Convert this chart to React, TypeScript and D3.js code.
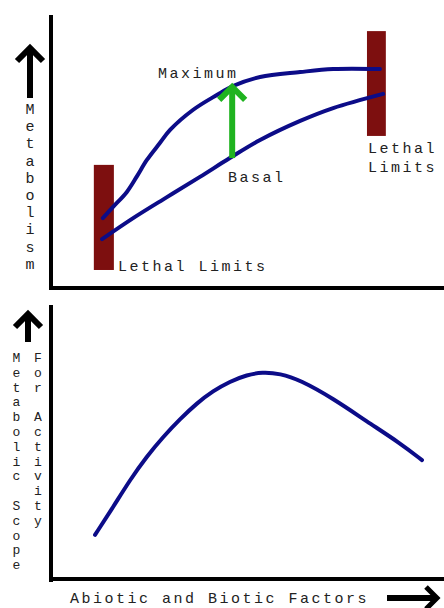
import React from "react";
import * as d3 from "d3";

// ---- data (domain units: factor level 0-100, metabolism 0-100) ----
const maxX = [13.2, 15.8, 19.3, 21.9, 24.4, 27.7, 30.3, 36.1, 42.2, 46.3, 53.2, 63.4, 71.8, 83.7];
const maxY = [25.6, 29.7, 35.2, 41.0, 46.9, 53.1, 57.9, 65.2, 70.7, 74.0, 77.3, 79.1, 80.2, 80.2];

const basalX = [13.0, 20.9, 29.5, 37.9, 45.5, 53.2, 63.4, 71.8, 84.5];
const basalY = [17.9, 25.6, 33.3, 40.7, 47.6, 54.2, 61.2, 65.9, 71.1];

const scopeX = [11.2, 15.8, 20.1, 24.4, 28.5, 32.8, 37.2, 41.2, 45.5, 49.9, 53.7, 58.3, 63.4, 71.8, 80.4, 88.8, 94.4];
const scopeY = [16.4, 26.5, 36.4, 45.0, 52.0, 58.5, 64.4, 68.7, 72.2, 74.6, 75.6, 75.1, 72.7, 66.0, 57.6, 49.8, 43.6];

// lethal limit bands: [x0, x1, yLow, yHigh]
const lethalLeft = [10.9, 16.0, 6.6, 45.1];
const lethalRight = [80.4, 85.2, 55.7, 94.1];

// green arrow: at x, from basal to maximum
const arrowX = 46.1;
const arrowFrom = 47.6;
const arrowTo = 75.1;

const topYLabel = "Metabolism";
const bottomYLabel1 = "Metabolic Scope";
const bottomYLabel2 = "For Activity";
const xLabel = "Abiotic and Biotic Factors";

const W = 444;
const H = 608;
const FONT = "'Liberation Mono', 'Courier New', monospace";
const NAVY = "#0c0c88";
const RED = "#7d0f0f";
const GREEN = "#1fb31f";

export default function App() {
  const x = d3.scaleLinear().domain([0, 100]).range([51, 444]);
  const yTop = d3.scaleLinear().domain([0, 100]).range([288, 15]);
  const yBot = d3.scaleLinear().domain([0, 100]).range([580, 305]);

  const lineTop = d3
    .line<[number, number]>()
    .x((d) => x(d[0]))
    .y((d) => yTop(d[1]))
    .curve(d3.curveCatmullRom.alpha(0.5));
  const lineBot = d3
    .line<[number, number]>()
    .x((d) => x(d[0]))
    .y((d) => yBot(d[1]))
    .curve(d3.curveBasis);

  const maxPts = maxX.map((v, i) => [v, maxY[i]] as [number, number]);
  const basalPts = basalX.map((v, i) => [v, basalY[i]] as [number, number]);
  const scopePts = scopeX.map((v, i) => [v, scopeY[i]] as [number, number]);

  const textStyle = { fontFamily: FONT, fontSize: 15, letterSpacing: 2.5, fill: "#222" } as const;
  const colStyle = { fontFamily: FONT, fontSize: 13, fill: "#222" } as const;

  const ax = x(arrowX);
  const ay0 = yTop(arrowFrom);
  const ay1 = yTop(arrowTo) + 4;

  return (
    <svg width={W} height={H} style={{ position: "absolute", left: 0, top: 0, background: "#fff" }}>
      {/* top panel axes */}
      <line x1={51} y1={15} x2={51} y2={290} stroke="#000" strokeWidth={4} />
      <line x1={49} y1={288} x2={444} y2={288} stroke="#000" strokeWidth={4} />
      {/* bottom panel axes */}
      <line x1={51} y1={305} x2={51} y2={582} stroke="#000" strokeWidth={4} />
      <line x1={49} y1={579} x2={444} y2={579} stroke="#000" strokeWidth={4} />

      {/* lethal bars */}
      <rect x={x(lethalLeft[0])} y={yTop(lethalLeft[3])} width={x(lethalLeft[1]) - x(lethalLeft[0])} height={yTop(lethalLeft[2]) - yTop(lethalLeft[3])} fill={RED} />
      <rect x={x(lethalRight[0])} y={yTop(lethalRight[3])} width={x(lethalRight[1]) - x(lethalRight[0])} height={yTop(lethalRight[2]) - yTop(lethalRight[3])} fill={RED} />

      {/* curves */}
      <path d={lineTop(maxPts) ?? ""} fill="none" stroke={NAVY} strokeWidth={4} strokeLinecap="round" />
      <path d={lineTop(basalPts) ?? ""} fill="none" stroke={NAVY} strokeWidth={4} strokeLinecap="round" />
      <path d={lineBot(scopePts) ?? ""} fill="none" stroke={NAVY} strokeWidth={4} strokeLinecap="round" />

      {/* green arrow */}
      <line x1={ax} y1={ay0} x2={ax} y2={ay1 + 2} stroke={GREEN} strokeWidth={6} />
      <polyline points={`${ax - 13},${ay1 + 13} ${ax},${ay1} ${ax + 13},${ay1 + 13}`} fill="none" stroke={GREEN} strokeWidth={6} strokeLinejoin="miter" />

      {/* annotations */}
      <text x={158} y={78} style={textStyle}>Maximum</text>
      <text x={228} y={182} style={textStyle}>Basal</text>
      <text x={118} y={271} style={textStyle}>Lethal Limits</text>
      <text x={368} y={153} style={textStyle}>Lethal</text>
      <text x={368} y={172} style={textStyle}>Limits</text>

      {/* top y arrow */}
      <line x1={30} y1={98} x2={30} y2={50} stroke="#000" strokeWidth={6} />
      <polyline points="17,61 30,48 43,61" fill="none" stroke="#000" strokeWidth={6} strokeLinejoin="miter" />
      {topYLabel.split("").map((c, i) => (
        <text key={"t" + i} x={30} y={114 + i * 17.2} textAnchor="middle" style={{ ...textStyle, letterSpacing: 0 }}>
          {c}
        </text>
      ))}

      {/* bottom y arrow */}
      <line x1={28} y1={342} x2={28} y2={316} stroke="#000" strokeWidth={6} />
      <polyline points="15,327 28,314 41,327" fill="none" stroke="#000" strokeWidth={6} strokeLinejoin="miter" />
      {bottomYLabel1.split("").map((c, i) => (
        <text key={"b1" + i} x={16.5} y={362 + i * 14.8} textAnchor="middle" style={colStyle}>
          {c}
        </text>
      ))}
      {bottomYLabel2.split("").map((c, i) => (
        <text key={"b2" + i} x={38} y={362 + i * 14.8} textAnchor="middle" style={colStyle}>
          {c}
        </text>
      ))}

      {/* x label and arrow */}
      <text x={70} y={603} style={textStyle}>{xLabel}</text>
      <line x1={387} y1={598} x2={436} y2={598} stroke="#000" strokeWidth={6} />
      <polyline points="426,587 437,598 426,609" fill="none" stroke="#000" strokeWidth={5} strokeLinejoin="miter" />
    </svg>
  );
}
